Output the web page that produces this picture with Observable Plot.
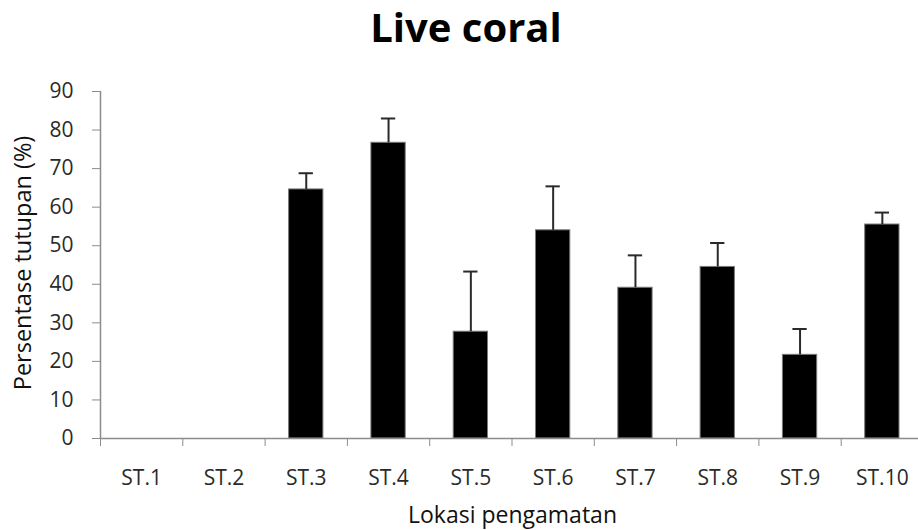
<!DOCTYPE html>
<html>
<head>
<meta charset="utf-8">
<script src="https://cdn.jsdelivr.net/npm/d3@7"></script>
<script src="https://cdn.jsdelivr.net/npm/@observablehq/plot@0.6"></script>
<style>
  body { margin: 0; background: #fff; }
  #wrap { position: relative; width: 918px; height: 530px; overflow: hidden; font-family: "Open Sans", sans-serif; }
  #title { position: absolute; top: 7px; left: 466px; transform: translateX(-50%); font-size: 40px; line-height: 40px; font-weight: 700; color: #000; white-space: nowrap; }
  #chart { position: absolute; top: 70px; left: 0; }
</style>
</head>
<body>
<div id="wrap">
  <div id="title">Live coral</div>
  <div id="chart"></div>
</div>
<script>
// Data
const stations = ["ST.1", "ST.2", "ST.3", "ST.4", "ST.5", "ST.6", "ST.7", "ST.8", "ST.9", "ST.10"];
const coverMean = [null, null, 64.6, 76.7, 27.7, 54.0, 39.1, 44.5, 21.7, 55.5];
const coverErr  = [null, null, 4.2, 6.3, 15.6, 11.4, 8.4, 6.2, 6.7, 3.1];
const yTicks = [0, 10, 20, 30, 40, 50, 60, 70, 80, 90];

const rows = stations.map((s, i) => ({station: s, idx: i + 1, mean: coverMean[i], err: coverErr[i]}));
const barRows = rows.filter(d => d.mean != null);
const boundaries = d3.range(0, stations.length + 1).map(i => i + 0.5);
const centers = rows.map(d => d.idx);

const axisGray = "#8c8c8c";
const textCol = "#2a2a2a";

const chart = Plot.plot({
  width: 918,
  height: 460,
  marginTop: 21,
  marginBottom: 92,
  marginLeft: 100,
  marginRight: 0,
  style: {fontFamily: "Open Sans, sans-serif", background: "white"},
  x: {type: "linear", domain: [0.5, stations.length + 0.5], range: [100, 923]},
  y: {domain: [0, 90]},
  marks: [
    // bars
    Plot.rectY(barRows, {x1: d => d.idx - 0.5, x2: d => d.idx + 0.5, y: "mean", fill: "black", stroke: "#7a7a7a", strokeWidth: 1, insetLeft: 24, insetRight: 24}),
    // error bar stems (upper only)
    Plot.ruleX(barRows, {x: "idx", y1: "mean", y2: d => d.mean + d.err, stroke: "#2a2a2a", strokeWidth: 2}),
    // error bar caps
    Plot.ruleY(barRows, {x1: d => d.idx - 0.5, x2: d => d.idx + 0.5, y: d => d.mean + d.err, stroke: "#2a2a2a", strokeWidth: 2, insetLeft: 34, insetRight: 34}),
    // axis lines
    Plot.ruleY([0], {stroke: axisGray, strokeWidth: 1.5}),
    Plot.ruleX([0.5], {y1: 0, y2: 90, stroke: axisGray, strokeWidth: 1.5}),
    // y axis
    Plot.axisY({ticks: yTicks, tickSize: 8, tickPadding: 19, stroke: axisGray, fill: textCol, fontSize: 21, label: null}),
    // x boundary ticks
    Plot.axisX({ticks: boundaries, tickSize: 8, tickFormat: () => "", stroke: axisGray, label: null}),
    // x category labels
    Plot.axisX({ticks: centers, tickSize: 0, tickPadding: 32, tickFormat: i => stations[i - 1], fill: textCol, fontSize: 21, label: null}),
    // axis titles
    Plot.text(["Persentase tutupan (%)"], {frameAnchor: "left", textAnchor: "middle", rotate: -90, dx: -77, dy: -2, fontSize: 23.5, fill: "#111"}),
    Plot.text(["Lokasi pengamatan"], {frameAnchor: "bottom", textAnchor: "middle", dx: 3, dy: 84, fontSize: 23, fill: "#111"})
  ]
});
document.getElementById("chart").appendChild(chart);
</script>
</body>
</html>
